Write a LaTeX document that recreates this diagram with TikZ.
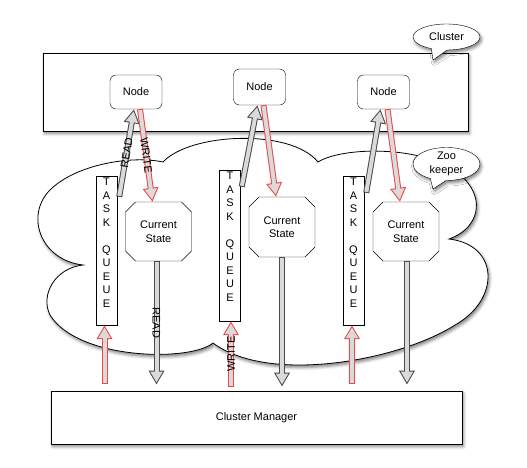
\documentclass[tikz,border=0pt]{standalone}
\usepackage{fontspec}
\setmainfont{Liberation Sans}
\usetikzlibrary{shapes.misc, shapes.callouts, arrows.meta, calc, shadows.blur}

\definecolor{arrowred}{RGB}{238,70,70}
\definecolor{arrowfill}{RGB}{218,218,218}
\definecolor{arrowgrey}{RGB}{75,75,75}

\tikzstyle{softshadow} = [blur shadow={shadow xshift=1.5pt, shadow yshift=-2.5pt, shadow blur radius=3pt, shadow opacity=50}]
\tikzstyle{panel} = [rectangle, draw=black, fill=white, line width=0.8pt, softshadow]
\tikzstyle{host} = [rectangle, rounded corners=6pt, draw=black, fill=white, minimum width=52pt, minimum height=34pt]
\tikzstyle{queue} = [rectangle, draw=black, fill=white, minimum width=21pt, minimum height=149pt, inner sep=0pt]
\tikzstyle{state} = [chamfered rectangle, chamfered rectangle xsep=5pt, chamfered rectangle ysep=5pt, draw=black, fill=white, minimum width=66pt, minimum height=59pt, align=center, inner sep=0pt]
\tikzstyle{bubble} = [ellipse callout, callout pointer arc=28, draw=black, fill=white, align=center, inner sep=0pt, minimum width=67pt, softshadow]
\tikzstyle{cloud} = [draw=black, fill=white, line width=0.8pt, softshadow]
\tikzstyle{pipe} = [line width=4pt, draw=arrowfill, shorten <=1pt, shorten >=2.1pt, -{Triangle[length=10.9pt, width=11.7pt]}]
\tikzstyle{greyarrow} = [pipe, preaction={draw=arrowgrey, line width=6pt, shorten <=0pt, shorten >=0pt, -{Triangle[length=14pt, width=15pt]}}]
\tikzstyle{redarrow} = [pipe, preaction={draw=arrowred, line width=6pt, shorten <=0pt, shorten >=0pt, -{Triangle[length=14pt, width=15pt]}}]
\tikzstyle{tag} = [midway, sloped, inner sep=0pt, text=black]

\newcommand{\taskqueue}{T\\A\\S\\K\\[13.5pt]Q\\U\\E\\U\\E}

\begin{document}
\begin{tikzpicture}[x=1pt, y=-1pt, font=\fontsize{11pt}{13.5pt}\selectfont]
    \useasboundingbox (0,0) rectangle (527,467);

    % zookeeper cloud
    \draw [cloud] (163,162) .. controls (190,133) and (290,128) .. (318,162)
        .. controls (345,145) and (440,145) .. (468,183)
        .. controls (485,205) and (475,230) .. (449,239)
        .. controls (500,245) and (500,300) .. (455,325)
        .. controls (400,360) and (270,385) .. (213,343)
        .. controls (190,362) and (78,360) .. (50,315)
        .. controls (40,295) and (55,268) .. (83,265)
        .. controls (40,260) and (25,215) .. (50,190)
        .. controls (75,165) and (130,155) .. (163,162) -- cycle;

    \node (cluster) [panel, minimum width=425pt, minimum height=78pt] at (255.5,92) {};
    \node (cm) [panel, minimum width=411pt, minimum height=53pt] at (256.5,417.5) {Cluster Manager};

    \node (clusterlabel) [bubble, minimum height=26pt, callout absolute pointer={(433,60)}] at (446.5,37) {Cluster};
    \node (zklabel) [bubble, minimum height=33pt, callout absolute pointer={(433,189)}] at (446.5,164) {Zoo\\keeper};

    \node (node1) [host] at (136,92) {Node};
    \node (node2) [host, minimum height=36pt] at (259.5,87) {Node};
    \node (node3) [host] at (383.5,92) {Node};

    \node (tq1) [queue, label={[align=center, anchor=north, inner sep=0pt, yshift=-2pt]north:\taskqueue}] at (106.5,250.5) {};
    \node (tq2) [queue, minimum height=151pt, label={[align=center, anchor=north, inner sep=0pt, yshift=-2pt]north:\taskqueue}] at (230,245.5) {};
    \node (tq3) [queue, label={[align=center, anchor=north, inner sep=0pt, yshift=-2pt]north:\taskqueue}] at (353.5,250.5) {};

    \node (cs1) [state] at (158.5,231.5) {Current\\State};
    \node (cs2) [state, minimum height=60pt] at (282,227) {Current\\State};
    \node (cs3) [state] at (406,231.5) {Current\\State};

    % queues and states <-> nodes
    \draw [greyarrow] ($(tq1.north east)+(2,21)$) -- ($(node1.south)+(-2,0)$) node [tag] {READ};
    \draw [redarrow] ($(node1.south)+(4,0)$) -- ($(cs1.north)+(-6,0)$) node [tag] {WRITE};
    \draw [greyarrow] ($(tq2.north east)+(1,17)$) -- ($(node2.south)+(-2,0)$);
    \draw [redarrow] ($(node2.south)+(4,0)$) -- ($(cs2.north)+(-6,0)$);
    \draw [greyarrow] ($(tq3.north east)+(2,17)$) -- ($(node3.south)+(-3,0)$);
    \draw [redarrow] ($(node3.south)+(4,0)$) -- ($(cs3.north)+(-6,0)$);

    % cluster manager <-> queues and states
    \draw [redarrow] ($(tq1.south |- cm.north)+(-2,-7)$) -- ($(tq1.south)+(-2,0)$);
    \draw [greyarrow] ($(cs1.south)+(-2,0)$) -- ($(cs1.south |- cm.north)+(-2,-6)$) node [tag] {READ};
    \draw [redarrow] ($(tq2.south |- cm.north)+(1,-4)$) -- ($(tq2.south)+(1,0)$) node [tag] {WRITE};
    \draw [greyarrow] (cs2.south) -- ($(cs2.south |- cm.north)+(0,-4)$);
    \draw [redarrow] ($(tq3.south |- cm.north)+(-1.5,-7)$) -- ($(tq3.south)+(-1.5,0)$);
    \draw [greyarrow] ($(cs3.south)+(1,0)$) -- ($(cs3.south |- cm.north)+(1,-6)$);
\end{tikzpicture}
\end{document}
